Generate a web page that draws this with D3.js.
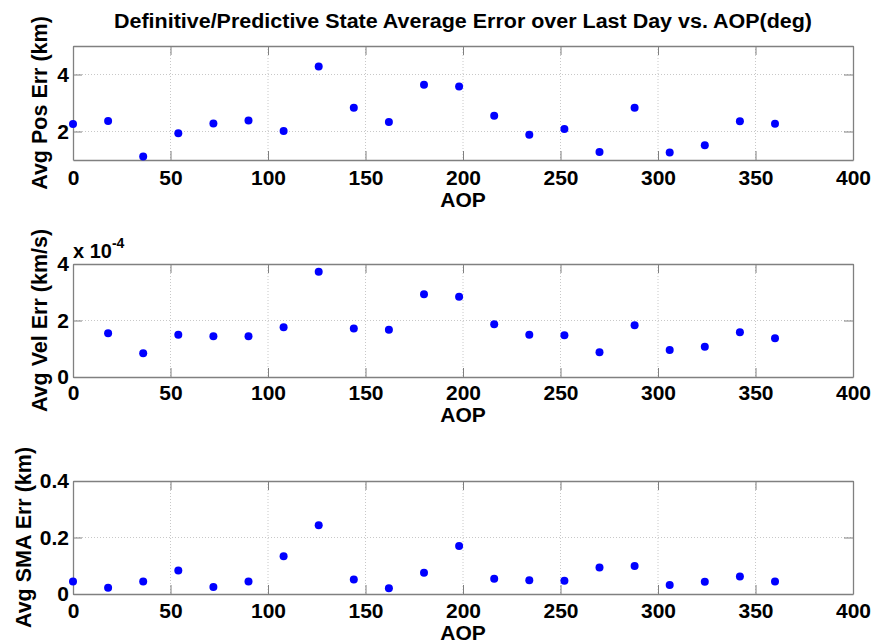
<!DOCTYPE html>
<html><head><meta charset="utf-8">
<script src="https://cdn.jsdelivr.net/npm/d3@7"></script>
<style>
html,body{margin:0;padding:0;background:#fff;}
text{font-family:"Liberation Sans",Arial,sans-serif;font-weight:bold;fill:#000;}
</style></head>
<body><svg id="chart" width="874" height="643"></svg>
<script>
const aop = [0,18,36,54,72,90,108,126,144,162,180,198,216,234,252,270,288,306,324,342,360];
const posErr = [2.26,2.37,1.12,1.94,2.28,2.39,2.02,4.28,2.83,2.33,3.64,3.58,2.55,1.89,2.09,1.28,2.83,1.26,1.52,2.36,2.27];
const velErr = [null,1.55e-4,0.84e-4,1.50e-4,1.44e-4,1.44e-4,1.76e-4,3.73e-4,1.72e-4,1.67e-4,2.93e-4,2.84e-4,1.87e-4,1.50e-4,1.48e-4,0.88e-4,1.83e-4,0.96e-4,1.07e-4,1.58e-4,1.37e-4];
const smaErr = [0.044,0.022,0.044,0.083,0.025,0.044,0.134,0.243,0.051,0.020,0.075,0.170,0.054,0.049,0.047,0.094,0.099,0.032,0.043,0.062,0.044];
const xTicks = [0,50,100,150,200,250,300,350,400];
const posTicks = [2,4];
const velTicks = [0,2e-4,4e-4];
const smaTicks = [0,0.2,0.4];

const title = "Definitive/Predictive State Average Error over Last Day vs. AOP(deg)";
const svg = d3.select("#chart");
const L = 73, R = 853;
const x = d3.scaleLinear().domain([0,400]).range([L,R]);

svg.append("text").attr("x",(L+R)/2).attr("y",28).attr("text-anchor","middle")
  .style("font-size","20px").attr("textLength",698).attr("lengthAdjust","spacingAndGlyphs").text(title);

const panels = [
  {vals:posErr, dom:[1,5], top:46, bot:160, ticks:posTicks, fmt:d=>d3.format("d")(d), ylabel:"Avg Pos Err (km)", xlabY:207, xpad:10, ylabX:47},
  {vals:velErr, dom:[0,4e-4], top:264, bot:377, ticks:velTicks, fmt:d=>String(Math.round(d/1e-4)), ylabel:"Avg Vel Err (km/s)", xlabY:422, xpad:8, ylabX:47, exp:true},
  {vals:smaErr, dom:[0,0.4], top:481, bot:594, ticks:smaTicks, fmt:d=>d===0?"0":d3.format(".1f")(d), ylabel:"Avg SMA Err (km)", xlabY:640, xpad:9, ylabX:31}
];

panels.forEach(p=>{
  const y = d3.scaleLinear().domain(p.dom).range([p.bot,p.top]);
  const g = svg.append("g");
  // grid
  g.selectAll(".gx").data(xTicks.filter(t=>t>0&&t<400)).enter().append("line")
    .attr("x1",d=>x(d)).attr("x2",d=>x(d)).attr("y1",p.top).attr("y2",p.bot)
    .attr("stroke","#c8c8c8").attr("stroke-width",1).attr("stroke-dasharray","1,2");
  g.selectAll(".gy").data(p.ticks.filter(t=>t>p.dom[0]&&t<p.dom[1])).enter().append("line")
    .attr("y1",d=>y(d)).attr("y2",d=>y(d)).attr("x1",L).attr("x2",R)
    .attr("stroke","#c8c8c8").attr("stroke-width",1).attr("stroke-dasharray","1,2");
  // axes
  const xb = d3.axisBottom(x).tickValues(xTicks).tickSizeInner(-9).tickSizeOuter(0).tickPadding(p.xpad);
  const xt = d3.axisTop(x).tickValues(xTicks).tickSizeInner(-9).tickSizeOuter(0).tickFormat("");
  const yl = d3.axisLeft(y).tickValues(p.ticks).tickSizeInner(-9).tickSizeOuter(0).tickPadding(4).tickFormat(p.fmt);
  const yr = d3.axisRight(y).tickValues(p.ticks).tickSizeInner(-9).tickSizeOuter(0).tickFormat("");
  [[xb,`translate(0,${p.bot})`],[xt,`translate(0,${p.top})`],[yl,`translate(${L},0)`],[yr,`translate(${R},0)`]].forEach(([ax,tr])=>{
    const a = g.append("g").attr("transform",tr).call(ax);
    a.select(".domain").attr("stroke","#808080").attr("stroke-width",1.3);
    a.selectAll(".tick line").attr("stroke","#808080").attr("stroke-width",1);
    a.selectAll("text").style("font-size","21px").style("font-family","'Liberation Sans',Arial,sans-serif").style("font-weight","bold").attr("fill","#000");
  });
  // points
  g.selectAll("circle").data(aop.map((a,i)=>({a,v:p.vals[i]})).filter(d=>d.v!==null)).enter().append("circle")
    .attr("cx",d=>x(d.a)).attr("cy",d=>y(d.v)).attr("r",4).attr("fill","#0000ff");
  // labels
  g.append("text").attr("x",x(200)).attr("y",p.xlabY).attr("text-anchor","middle").style("font-size","21px").text("AOP");
  g.append("text").attr("transform",`translate(${p.ylabX},${(p.top+p.bot)/2}) rotate(-90)`).attr("text-anchor","middle")
    .style("font-size","21.5px").text(p.ylabel);
  if(p.exp){
    const t = g.append("text").attr("x",L).attr("y",p.top-6).style("font-size","20px");
    t.append("tspan").text("x 10");
    t.append("tspan").attr("dy",-10).style("font-size","14px").text("-4");
  }
});
</script></body></html>
